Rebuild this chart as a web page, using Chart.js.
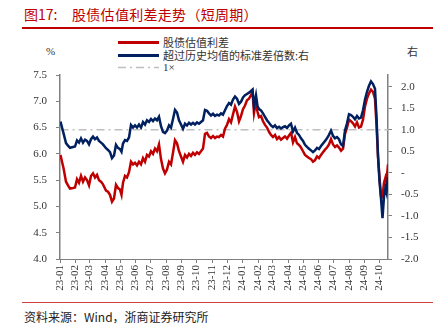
<!DOCTYPE html>
<html>
<head>
<meta charset="utf-8">
<script src="https://cdn.jsdelivr.net/npm/chart.js"></script>
<style>
  body { margin: 0; width: 440px; height: 331px; position: relative; background: #fff; overflow: hidden;
         font-family: "Noto Sans CJK SC", sans-serif; }
  #c { position: absolute; left: 0; top: 0; }
  .t { position: absolute; white-space: nowrap; line-height: 1; }
  .lg { position: absolute; left: 118px; width: 41px; }
</style>
</head>
<body>
<div class="t" style="left:24px;top:7px;color:#C00000;font-size:14px;">图17:</div>
<div class="t" style="left:72px;top:7px;color:#C00000;font-size:14px;letter-spacing:0.3px;">股债估值利差走势（短周期）</div>
<div style="position:absolute;left:22px;top:27px;width:411px;height:2px;background:#C00000;"></div>

<div class="t" style="left:46px;top:46px;font-size:11px;color:#333;font-family:'Liberation Serif',serif;">%</div>
<div class="t" style="left:407px;top:46px;font-size:11px;color:#333;">右</div>

<div class="lg" style="top:41px;height:3px;background:#C00000;"></div>
<div class="t" style="left:163px;top:37px;font-size:11px;color:#333;">股债估值利差</div>
<div class="lg" style="top:54px;height:3px;background:#002060;"></div>
<div class="t" style="left:163px;top:50px;font-size:11px;color:#333;">超过历史均值的标准差倍数:右</div>
<svg class="lg" style="top:66px;height:3px;" width="41" height="3"><line x1="0" y1="1.5" x2="41" y2="1.5" stroke="#BFBFBF" stroke-width="1.5" stroke-dasharray="8 4 2 4"/></svg>
<div class="t" style="left:163px;top:62px;font-size:11px;color:#333;font-family:'Liberation Serif',serif;">1×</div>

<div style="position:absolute;left:22px;top:302px;width:411px;height:1px;background:#D04040;"></div>
<div class="t" style="left:24px;top:311px;font-size:12px;color:#222;">资料来源：Wind，浙商证券研究所</div>

<canvas id="c" width="440" height="331"></canvas>
<script>
// calendar days since 2023-01-01
const days = [1,4,7,12,16,20,26,30,34,38,42,46,50,54,58,62,66,70,74,78,82,86,92,96,100,104,108,112,116,120,123,126,130,134,138,
  142,146,150,154,158,162,166,170,174,178,182,186,190,194,198,202,206,210,214,218,222,226,230,234,238,242,246,250,254,258,262,266,270,274,278,282,286,290,294,298,302,306,310,314,318,322,326,330,334,338,342,346,350,354,358,362,366,370,374,378,382,
  385,388,392,395,
  398,402,406,410,414,418,422,426,430,434,438,442,446,450,454,458,462,466,470,474,478,482,486,490,494,498,502,506,510,514,518,522,526,530,534,538,542,546,550,554,558,562,566,570,574,578,582,586,590,594,598,602,606,610,614,618,622,626,630,
  633,636,639,642,645,648,651,653,656];

// 股债估值利差 (%)
const spread = [5.98,5.85,5.73,5.47,5.40,5.34,5.35,5.36,5.52,5.45,5.58,5.47,5.55,5.50,5.40,5.58,5.63,5.55,5.60,5.50,5.47,5.42,5.30,5.28,5.22,5.09,5.15,5.41,5.35,5.32,5.22,5.45,5.58,5.55,5.65,
  5.85,5.80,5.83,5.78,5.85,5.80,5.92,5.85,5.98,5.95,6.05,6.00,6.10,6.05,6.18,5.90,5.72,5.63,5.70,5.85,5.80,6.02,6.26,6.20,6.05,5.95,5.85,5.98,5.93,6.00,5.96,6.02,5.98,6.03,6.00,6.05,6.10,6.38,6.40,6.33,6.30,6.34,6.30,6.33,6.32,6.36,6.33,6.48,6.55,6.66,6.60,6.75,6.90,6.80,6.62,6.72,6.85,6.92,7.02,7.05,7.12,
  7.18,6.78,7.00,6.80,
  6.70,6.72,6.62,6.55,6.50,6.42,6.36,6.32,6.36,6.28,6.32,6.27,6.30,6.33,6.29,6.35,6.40,6.22,6.32,6.20,6.17,6.12,6.05,5.98,5.95,5.92,5.90,5.85,5.88,5.95,5.92,5.98,6.03,6.08,6.12,6.18,6.28,6.18,6.13,6.16,6.12,6.06,6.10,6.38,6.50,6.65,6.62,6.58,6.52,6.60,6.50,6.52,6.65,6.90,7.05,7.15,7.22,7.18,7.05,
  6.55,5.95,5.55,5.20,5.18,5.45,5.55,5.48,5.80];

// 超过历史均值的标准差倍数 (right axis)
const zscore = [1.19,1.05,0.92,0.69,0.63,0.58,0.60,0.61,0.75,0.70,0.80,0.70,0.77,0.74,0.66,0.78,0.84,0.78,0.82,0.74,0.70,0.66,0.57,0.53,0.48,0.34,0.40,0.65,0.58,0.55,0.49,0.68,0.76,0.74,0.82,
  1.11,1.05,1.10,1.05,1.12,1.05,1.18,1.12,1.22,1.18,1.25,1.20,1.26,1.22,1.30,1.08,0.95,0.92,0.98,1.10,1.05,1.25,1.46,1.40,1.22,1.12,1.02,1.14,1.10,1.16,1.12,1.16,1.12,1.17,1.14,1.18,1.22,1.46,1.44,1.38,1.33,1.37,1.32,1.35,1.33,1.38,1.35,1.45,1.55,1.62,1.58,1.70,1.77,1.72,1.60,1.65,1.75,1.80,1.83,1.86,1.90,
  1.93,1.55,1.80,1.55,
  1.48,1.45,1.38,1.30,1.22,1.16,1.10,1.06,1.10,1.04,1.07,1.03,1.06,1.08,1.04,1.10,1.14,0.96,1.05,0.93,0.88,0.80,0.74,0.65,0.60,0.56,0.52,0.48,0.52,0.58,0.55,0.62,0.68,0.74,0.80,0.88,0.98,0.86,0.80,0.83,0.78,0.66,0.62,0.98,1.15,1.36,1.34,1.30,1.24,1.32,1.26,1.28,1.45,1.70,1.88,2.02,2.12,2.06,1.95,
  1.30,0.40,-0.20,-0.60,-1.05,-0.55,-0.35,-0.45,-0.10];

const oneX = 1;

const monthLabels = ["23-01","23-02","23-03","23-04","23-05","23-06","23-07","23-08","23-09","23-10","23-11","23-12",
  "24-01","24-02","24-03","24-04","24-05","24-06","24-07","24-08","24-09","24-10"];
const rightTicks = [-2, -1.5, -1, -0.5, 0, 0.5, 1, 1.5, 2];

const base = Date.UTC(2023, 0, 1);
const monthDays = monthLabels.map(l => (Date.UTC(2000 + Number(l.slice(0, 2)), Number(l.slice(3)) - 1, 1) - base) / 864e5);

const axisColor = "#808080";
const tickFont = { family: "'Liberation Serif', serif", size: 11 };

new Chart(document.getElementById("c"), {
  type: "line",
  data: {
    datasets: [
      {
        label: "股债估值利差",
        data: days.map((d, i) => ({ x: d, y: spread[i] })),
        yAxisID: "y",
        borderColor: "#C00000",
        borderWidth: 2.5,
        pointRadius: 0,
        order: 2,
      },
      {
        label: "超过历史均值的标准差倍数:右",
        data: days.map((d, i) => ({ x: d, y: zscore[i] })),
        yAxisID: "y1",
        borderColor: "#002060",
        borderWidth: 2.5,
        pointRadius: 0,
        order: 1,
      },
      {
        label: "1×",
        data: [{ x: days[0], y: oneX }, { x: days[days.length - 1], y: oneX }],
        yAxisID: "y1",
        borderColor: "#BFBFBF",
        borderWidth: 1.5,
        borderDash: [8, 4, 2, 4],
        pointRadius: 0,
        order: 3,
      },
    ],
  },
  options: {
    responsive: false,
    animation: false,
    layout: { padding: { top: 75, left: 0, right: 0, bottom: 0 } },
    plugins: { legend: { display: false }, tooltip: { enabled: false } },
    scales: {
      x: {
        type: "linear",
        min: 0,
        max: 656,
        afterBuildTicks: (axis) => { axis.ticks = monthDays.map(v => ({ value: v })); },
        afterFit: (axis) => { axis.height = 72; },
        ticks: {
          callback: (v, i) => monthLabels[i],
          autoSkip: false,
          maxRotation: 90,
          minRotation: 90,
          padding: 2,
          color: "#333",
          font: tickFont,
        },
        grid: { drawOnChartArea: false, tickLength: 4, color: axisColor },
        border: { color: axisColor, width: 1 },
      },
      y: {
        position: "left",
        min: 4,
        max: 7.5,
        ticks: { stepSize: 0.5, callback: (v) => v.toFixed(1), padding: 9, color: "#333", font: tickFont },
        afterFit: (axis) => { axis.width = 60; },
        grid: { drawOnChartArea: false, tickLength: 4, color: axisColor },
        border: { color: axisColor, width: 1.5 },
      },
      y1: {
        position: "right",
        min: -2,
        max: 2.27,
        afterBuildTicks: (axis) => { axis.ticks = rightTicks.map(v => ({ value: v })); },
        ticks: { callback: (v) => (v === 0 ? "-" : v.toFixed(1)), padding: 9, color: "#333", font: tickFont },
        afterFit: (axis) => { axis.width = 52; },
        grid: { drawOnChartArea: false, tickLength: 4, color: axisColor },
        border: { color: axisColor, width: 1.5 },
      },
    },
  },
});
</script>
</body>
</html>
